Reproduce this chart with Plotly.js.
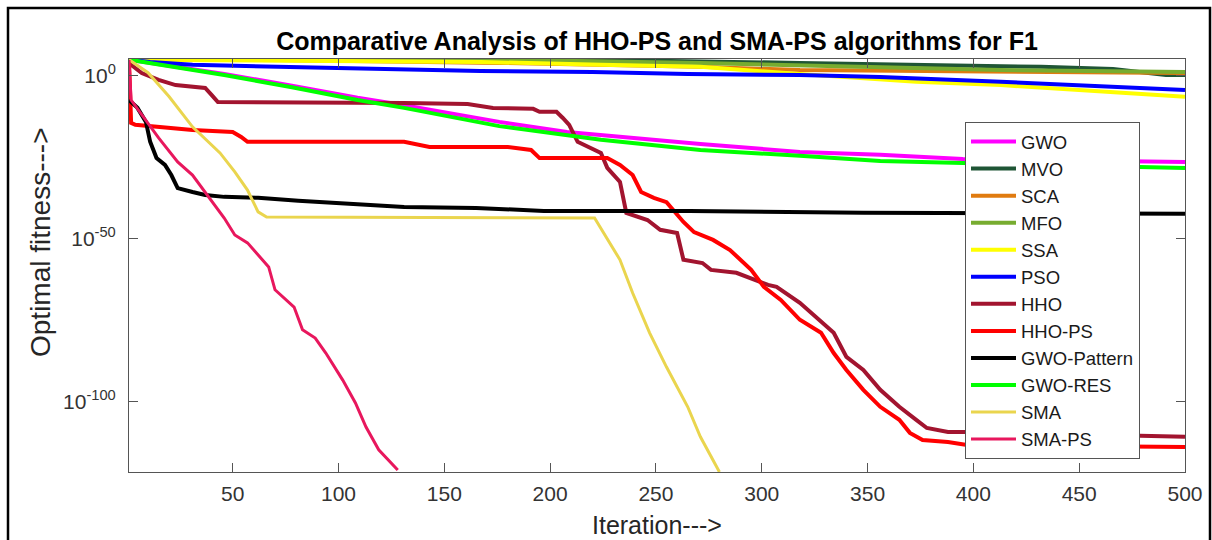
<!DOCTYPE html>
<html>
<head>
<meta charset="utf-8">
<script src="https://cdn.plot.ly/plotly-3.0.1.min.js"></script>
<style>
html,body{margin:0;padding:0;background:#fff;}
#chart{width:1212px;height:540px;}
</style>
</head>
<body>
<div id="chart"></div>
<script>
// ---- Data (iteration, best fitness) ----
const seriesNames = ['GWO','MVO','SCA','MFO','SSA','PSO','HHO','HHO-PS','GWO-Pattern','GWO-RES','SMA','SMA-PS'];

const gwoIter = [1, 46, 78, 109, 131, 176, 208, 271, 318, 356, 395, 500];
const gwoFit  = [1e5, 4, 1e-3, 2e-7, 1e-9, 8e-15, 6.3e-18, 1.26e-21, 5e-24, 6.3e-25, 3.2e-26, 4e-27];

const mvoIter = [1, 224, 318, 384, 432, 466, 491, 500];
const mvoFit  = [1e5, 8e4, 1e4, 2.5e3, 6.3e2, 1.26e2, 2, 2];

const scaIter = [1, 64, 176, 271, 318, 465, 500];
const scaFit  = [1e5, 1e5, 1e4, 6.3e2, 6.3e1, 8, 8];

const mfoIter = [1, 129, 211, 271, 356, 413, 500];
const mfoFit  = [1e5, 8e4, 4e4, 1e4, 6.3e2, 6.3e1, 1.6e1];

const ssaIter = [1, 129, 167, 224, 271, 318, 373, 413, 460, 500];
const ssaFit  = [1e5, 4e4, 2e4, 2.5e3, 6.3e2, 4, 1.6e-2, 1.6e-3, 1.26e-5, 4e-7];

const psoIter = [1, 11, 31, 122, 167, 220, 265, 318, 356, 413, 500];
const psoFit  = [1e5, 2e4, 2.5e3, 1.26e2, 3.2e1, 1.6e1, 4, 2, 5e-1, 1.6e-2, 5e-5];

const hhoIter = [1, 2, 7, 15, 23, 37, 40, 43, 131, 161, 173, 192, 195, 203, 206, 209, 213, 217, 224, 227, 233, 236, 246, 252, 260, 263, 272, 276, 288, 303, 307, 318, 334, 340, 348, 356, 365, 373, 378, 388, 397, 500];
const hhoFit  = [1e5, 2.5e3, 8, 6.3e-2, 1.6e-3, 2e-4, 1.6e-6, 1e-8, 5e-9, 2.5e-9, 1.6e-10, 8e-11, 1e-11, 1e-11, 1.26e-13, 1e-15, 6.3e-21, 3.2e-22, 2.5e-24, 6.3e-29, 3.2e-33, 1e-42, 6.3e-45, 6.3e-48, 6.3e-49, 4e-57, 4e-58, 3.2e-60, 4e-61, 8e-65, 2e-65, 2.5e-70, 1.6e-79, 6.3e-87, 6.3e-91, 5e-97, 3.2e-102, 3.2e-106, 1e-108, 6.3e-110, 6.3e-110, 2e-111];

const hhopsIter = [1, 2, 4, 15, 31, 50, 54, 57, 131, 143, 180, 191, 195, 227, 233, 239, 243, 249, 255, 263, 268, 277, 285, 295, 301, 309, 318, 328, 334, 340, 348, 356, 365, 370, 376, 388, 397, 500];
const hhopsFit  = [8e4, 4e-15, 1e-15, 2.5e-16, 2.5e-17, 6.3e-18, 2e-19, 6.3e-21, 6.3e-21, 1.6e-22, 1.6e-22, 2e-23, 6.3e-26, 6.3e-26, 5e-28, 4e-31, 2.5e-36, 4e-38, 2e-39, 1.6e-45, 1.26e-48, 5e-51, 4e-54, 3.2e-60, 2e-65, 2e-69, 1.6e-75, 1.6e-79, 1e-85, 6.3e-91, 5e-97, 3.2e-102, 3.2e-106, 3.2e-110, 2e-112, 5e-113, 6.3e-114, 1.6e-114];

const gwopIter = [1, 2, 5, 9, 11, 14, 18, 21, 24, 31, 37, 46, 62, 81, 102, 131, 165, 197, 266, 348, 500];
const gwopFit  = [4e-8, 1e-8, 1.6e-10, 8e-15, 6.3e-21, 6.3e-26, 5e-28, 4e-31, 4e-35, 2.5e-36, 3.2e-37, 8e-38, 4e-38, 5e-39, 1e-39, 6.3e-41, 3.2e-41, 4e-42, 4e-42, 1e-42, 5e-43];

const gwoResIter = [1, 46, 78, 109, 131, 176, 224, 271, 318, 356, 395, 500];
const gwoResFit  = [1e5, 2, 3.2e-4, 4e-8, 1.6e-10, 4e-16, 2.5e-20, 2e-23, 3.2e-25, 8e-27, 2e-27, 6.3e-29];

const smaIter = [1, 10, 20, 31, 44, 51, 57, 62, 66, 221, 233, 239, 247, 255, 265, 271, 280];
const smaFit  = [1e5, 1e1, 4e-7, 2.5e-16, 2.5e-24, 4e-30, 1e-35, 2e-42, 5e-44, 2.5e-44, 4e-57, 2.5e-67, 1.6e-79, 5e-90, 3.2e-102, 2e-111, 3.2e-122];

const smapsIter = [1, 2, 15, 24, 31, 38, 46, 51, 57, 67, 70, 79, 83, 89, 94, 102, 108, 113, 119, 128];
const smapsFit  = [8e4, 4e-8, 1e-19, 4e-27, 4e-31, 3.2e-37, 2.5e-44, 1.6e-49, 6.3e-52, 2.5e-59, 2.5e-66, 1.26e-71, 1.26e-78, 4e-81, 1e-85, 5e-94, 5e-101, 2e-108, 2e-115, 1.26e-121];

const xTickVals = [50, 100, 150, 200, 250, 300, 350, 400, 450, 500];
const yTickVals = [1, 1e-50, 1e-100];
const yTickText = ['10<sup>0</sup>', '10<sup>-50</sup>', '10<sup>-100</sup>'];

// ---- Styling ----
const FONT = 'Liberation Sans, Arial, Helvetica, sans-serif';
const colors = ['#FF00FF','#1F5535','#E07B10','#77AC30','#FFFF00','#0000FF','#A2142F','#FF0000','#000000','#00FF00','#EAD54E','#E8175D'];
const widths = [4,4,4,4,4,4,4,4,4,4,3,3];
const xs = [gwoIter, mvoIter, scaIter, mfoIter, ssaIter, psoIter, hhoIter, hhopsIter, gwopIter, gwoResIter, smaIter, smapsIter];
const ys = [gwoFit, mvoFit, scaFit, mfoFit, ssaFit, psoFit, hhoFit, hhopsFit, gwopFit, gwoResFit, smaFit, smapsFit];

const traces = seriesNames.map((n, i) => ({
  type: 'scatter', mode: 'lines', name: n,
  x: xs[i], y: ys[i],
  line: {color: colors[i], width: widths[i]},
  hoverinfo: 'skip'
}));

const L = 129, R = 1185, T = 59, B = 472;
const pw = R - L, ph = B - T;
const px2x = p => (p - L) / pw;
const px2y = p => (B - p) / ph;

const layout = {
  width: 1212, height: 540,
  margin: {l: L, r: 1212 - R, t: T, b: 540 - B, pad: 0},
  paper_bgcolor: '#fff', plot_bgcolor: '#fff',
  font: {family: FONT, color: '#262626'},
  showlegend: true,
  title: {
    text: '<b>Comparative Analysis of HHO-PS and SMA-PS algorithms for F1</b>',
    font: {family: FONT, size: 25, color: '#000'},
    xref: 'paper', x: 0.5, xanchor: 'center',
    yref: 'container', y: 1 - 41/540, yanchor: 'middle'
  },
  xaxis: {
    range: [1, 500], tickmode: 'array', tickvals: xTickVals,
    ticks: 'inside', ticklen: 9, tickwidth: 1, tickcolor: '#555',
    showline: true, linecolor: '#555', linewidth: 1, mirror: 'ticks',
    showgrid: false, zeroline: false, ticklabelstandoff: 3,
    tickfont: {family: FONT, size: 21, color: '#333'}
  },
  yaxis: {
    type: 'log', range: [-121.5, 5.2], tickmode: 'array', tickvals: yTickVals, ticktext: yTickText,
    ticks: 'inside', ticklen: 9, tickwidth: 1, tickcolor: '#555',
    showline: true, linecolor: '#555', linewidth: 1, mirror: 'ticks',
    showgrid: false, zeroline: false, ticklabelstandoff: 8,
    tickfont: {family: FONT, size: 21, color: '#333'}
  },
  legend: {
    x: px2x(965), y: px2y(122), xanchor: 'left', yanchor: 'top',
    bgcolor: '#fff', bordercolor: '#555', borderwidth: 1,
    font: {family: FONT, size: 18.5, color: '#1a1a1a'},
    itemwidth: 45, tracegroupgap: 0
  },
  annotations: [
    {text: 'Iteration--->', xref: 'paper', yref: 'paper', x: px2x(657), y: px2y(525),
     xanchor: 'center', yanchor: 'middle', showarrow: false, font: {family: FONT, size: 25, color: '#262626'}},
    {text: 'Optimal fitness--->', xref: 'paper', yref: 'paper', x: px2x(41), y: px2y(242),
     xanchor: 'center', yanchor: 'middle', textangle: -90, showarrow: false, font: {family: FONT, size: 28, color: '#262626'}}
  ],
  shapes: [
    {type: 'rect', xref: 'paper', yref: 'paper', x0: px2x(8), x1: px2x(1210), y0: px2y(560), y1: px2y(8),
     line: {color: '#000', width: 2.5}, fillcolor: 'rgba(0,0,0,0)', layer: 'above'}
  ]
};

Plotly.newPlot('chart', traces, layout, {staticPlot: true, displayModeBar: false});
</script>
</body>
</html>
